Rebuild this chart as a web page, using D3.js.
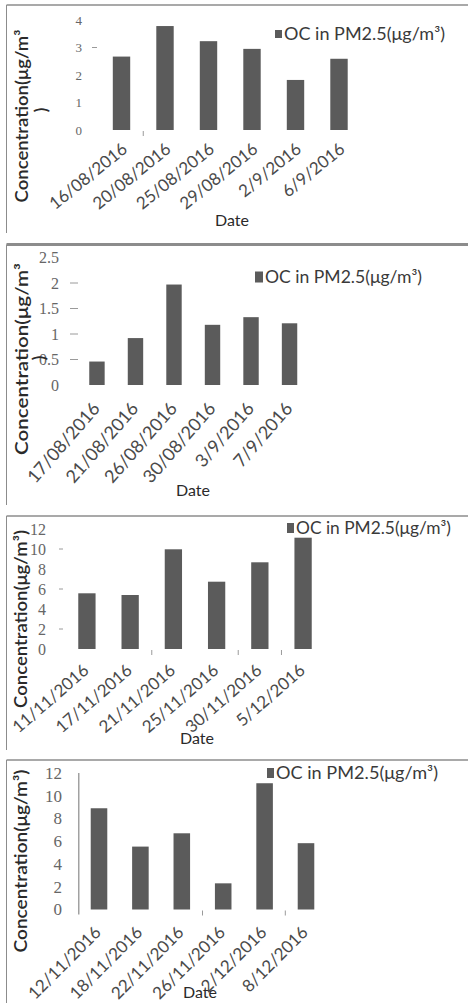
<!DOCTYPE html>
<html>
<head>
<meta charset="utf-8">
<script src="https://cdn.jsdelivr.net/npm/d3@7"></script>
<style>
  html, body { margin: 0; padding: 0; background: #fff; }
  svg { display: block; }
</style>
</head>
<body>
<script>
// OC concentrations in PM2.5 for four sampling campaigns
const dates1 = ["16/08/2016", "20/08/2016", "25/08/2016", "29/08/2016", "2/9/2016", "6/9/2016"];
const oc1 = [2.67, 3.78, 3.23, 2.95, 1.82, 2.59];
const ticks1 = [0, 1, 2, 3, 4];

const dates2 = ["17/08/2016", "21/08/2016", "26/08/2016", "30/08/2016", "3/9/2016", "7/9/2016"];
const oc2 = [0.46, 0.92, 1.97, 1.18, 1.33, 1.21];
const ticks2 = [0, 0.5, 1, 1.5, 2, 2.5];

const dates3 = ["11/11/2016", "17/11/2016", "21/11/2016", "25/11/2016", "30/11/2016", "5/12/2016"];
const oc3 = [5.57, 5.40, 9.97, 6.73, 8.67, 11.13];
const ticks3 = [0, 2, 4, 6, 8, 10, 12];

const dates4 = ["12/11/2016", "18/11/2016", "22/11/2016", "26/11/2016", "2/12/2016", "8/12/2016"];
const oc4 = [8.90, 5.53, 6.70, 2.30, 11.10, 5.83];
const ticks4 = [0, 2, 4, 6, 8, 10, 12];

const seriesName = "OC in PM2.5(μg/m³)";
const yTitle = "Concentration(μg/m³)";

// Layout for each panel
const panels = [
  { dates: dates1, values: oc1, ticks: ticks1, frameTop: 5, frameBottom: 233, frameW: 1.5,
    x0: 99.75, x1: 360.75, y0: 130, y1: 20, tickRight: 82, tickFont: 13,
    yMarks: [3], yMarkX: [92, 97], xMarks: [1],
    labelAngle: -39, labelDx: 7, labelDy: 21, labelFont: 17,
    dateX: 232, dateY: 226,
    titleX: 28, titleY: 116, titleLen: 173, titleWrap: true, wrapX: 47, wrapY: 110,
    legX: 275, legY: 34, legW: 7, legH: 8, legLen: 161 },
  { dates: dates2, values: oc2, ticks: ticks2, frameTop: 244.5, frameBottom: 505, frameW: 3,
    x0: 77.7, x1: 308.8, y0: 385, y1: 257.5, tickRight: 59, tickFont: 16,
    yMarks: [0.5, 1, 1.5, 2], yMarkX: [70, 78], xMarks: [],
    labelAngle: -49, labelDx: 4, labelDy: 24, labelFont: 18,
    dateX: 193, dateY: 496,
    titleX: 28, titleY: 359, titleLen: 192, titleWrap: true, wrapX: 45, wrapY: 358,
    legX: 255, legY: 277, legW: 8, legH: 11, legLen: 157 },
  { dates: dates3, values: oc3, ticks: ticks3, frameTop: 516, frameBottom: 750, frameW: 1.5,
    x0: 65.3, x1: 324.7, y0: 649, y1: 529, tickRight: 46, tickFont: 16,
    yMarks: [2, 6, 10], yMarkX: [59, 63], xMarks: [2, 4, 5],
    labelAngle: -41, labelDx: 3, labelDy: 23, labelFont: 17,
    dateX: 197, dateY: 744,
    titleX: 27, titleY: 619, titleLen: 178, titleWrap: false,
    legX: 287, legY: 528, legW: 7, legH: 10, legLen: 155 },
  { dates: dates4, values: oc4, ticks: ticks4, frameTop: 760, frameBottom: 1003, frameW: 1.5,
    x0: 78.3, x1: 326.7, y0: 909.5, y1: 773, tickRight: 62, tickFont: 17,
    yMarks: [], yMarkX: [0, 0], xMarks: [3, 5], axisLine: true,
    labelAngle: -45, labelDx: 3, labelDy: 24, labelFont: 17,
    dateX: 200, dateY: 998,
    titleX: 27, titleY: 861, titleLen: 183, titleWrap: false,
    legX: 267, legY: 773, legW: 7, legH: 10, legLen: 162 }
];

const W = 468, H = 1003;
const barColor = "#5b5b5b";
const frameColor = "#8c8c8c";
const sans = "Lato, 'Open Sans', sans-serif";
const serif = "'Liberation Serif', 'DejaVu Serif', serif";

const svg = d3.select("body").append("svg")
  .attr("width", W).attr("height", H);

panels.forEach(p => {
  const g = svg.append("g");
  const yMax = p.ticks[p.ticks.length - 1];

  const x = d3.scaleBand().domain(p.dates).range([p.x0, p.x1]).paddingInner(0.6).paddingOuter(0.3);
  const y = d3.scaleLinear().domain([0, yMax]).range([p.y0, p.y1]);

  // panel frame: top rule and left rule
  g.append("line").attr("x1", 6.5).attr("x2", W).attr("y1", p.frameTop).attr("y2", p.frameTop)
    .attr("stroke", frameColor).attr("stroke-width", p.frameW);
  g.append("line").attr("x1", 6.5).attr("x2", 6.5).attr("y1", p.frameTop).attr("y2", p.frameBottom)
    .attr("stroke", frameColor).attr("stroke-width", 1);

  // y tick labels
  const yAxis = d3.axisLeft(y).tickValues(p.ticks).tickSize(0).tickPadding(0)
    .tickFormat(d3.format("~g"));
  const ya = g.append("g").attr("transform", `translate(${p.tickRight},0)`).call(yAxis);
  ya.select(".domain").remove();
  ya.selectAll("text").attr("fill", "#666").attr("font-family", serif)
    .attr("font-size", p.tickFont);

  // faint tick marks
  g.selectAll(".ymark").data(p.yMarks).join("line")
    .attr("x1", p.yMarkX[0]).attr("x2", p.yMarkX[1])
    .attr("y1", d => y(d)).attr("y2", d => y(d))
    .attr("stroke", "#9a9a9a").attr("stroke-width", 1);
  g.selectAll(".xmark").data(p.xMarks).join("line")
    .attr("x1", i => x(p.dates[i]) - x.step() * x.paddingInner() / 2)
    .attr("x2", i => x(p.dates[i]) - x.step() * x.paddingInner() / 2)
    .attr("y1", p.y0 + 1).attr("y2", p.y0 + 6)
    .attr("stroke", "#9a9a9a").attr("stroke-width", 1);

  if (p.axisLine) {
    g.append("line").attr("x1", p.x0 + 0.5).attr("x2", p.x0 + 0.5)
      .attr("y1", y(yMax)).attr("y2", p.y0 + 5)
      .attr("stroke", "#8a8a8a").attr("stroke-width", 1.2);
  }

  // bars
  g.selectAll(".bar").data(p.values).join("rect")
    .attr("x", (d, i) => x(p.dates[i]))
    .attr("width", x.bandwidth())
    .attr("y", d => y(d))
    .attr("height", d => y(0) - y(d))
    .attr("fill", barColor);

  // rotated category labels
  const xAxis = d3.axisBottom(x).tickSize(0).tickPadding(0);
  const xa = g.append("g").attr("transform", `translate(0,${p.y0})`).call(xAxis);
  xa.select(".domain").remove();
  xa.selectAll("text")
    .attr("y", 0).attr("dy", 0)
    .attr("text-anchor", "end")
    .attr("fill", "#4a4a4a").attr("font-family", sans).attr("font-size", p.labelFont)
    .attr("transform", `translate(${p.labelDx},${p.labelDy}) rotate(${p.labelAngle})`);

  // axis titles
  g.append("text").attr("x", p.dateX).attr("y", p.dateY).attr("text-anchor", "middle")
    .attr("font-family", sans).attr("font-size", 16).attr("fill", "#2a2a2a").text("Date");

  const t = p.titleWrap ? yTitle.slice(0, -1) : yTitle;
  g.append("text")
    .attr("transform", `translate(${p.titleX},${p.titleY}) rotate(-90)`)
    .attr("text-anchor", "middle")
    .attr("font-family", sans).attr("font-size", 17).attr("font-weight", 600).attr("fill", "#2a2a2a")
    .attr("textLength", p.titleLen).attr("lengthAdjust", "spacingAndGlyphs")
    .text(t);
  if (p.titleWrap) {
    g.append("text")
      .attr("transform", `translate(${p.wrapX},${p.wrapY}) rotate(-90)`)
      .attr("text-anchor", "middle")
      .attr("font-family", sans).attr("font-size", 17).attr("font-weight", 600).attr("fill", "#2a2a2a")
      .text(")");
  }

  // legend
  g.append("rect").attr("x", p.legX).attr("y", p.legY - p.legH / 2)
    .attr("width", p.legW).attr("height", p.legH).attr("fill", barColor);
  g.append("text").attr("x", p.legX + p.legW + 2).attr("y", p.legY).attr("dy", "0.35em")
    .attr("font-family", sans).attr("font-size", 17).attr("fill", "#3a3a3a")
    .attr("textLength", p.legLen).attr("lengthAdjust", "spacingAndGlyphs")
    .text(seriesName);
});
</script>
</body>
</html>
